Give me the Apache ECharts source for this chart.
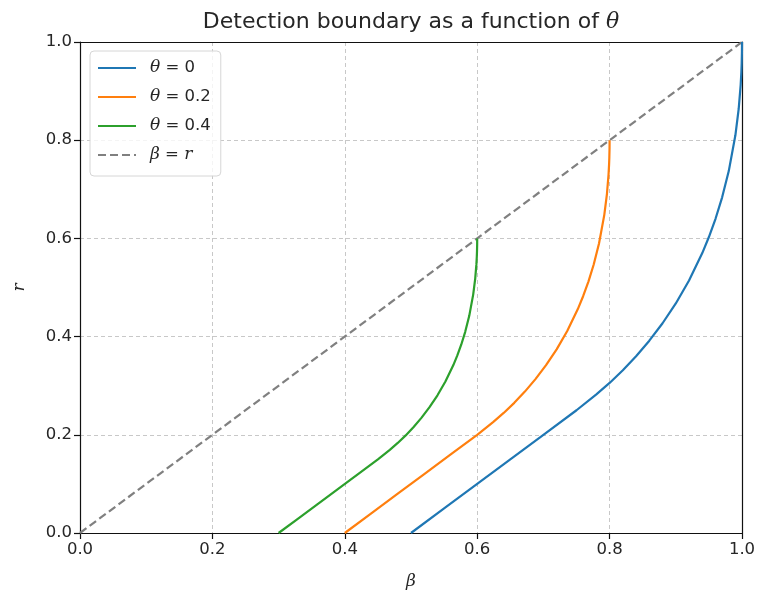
<!DOCTYPE html>
<html>
<head>
<meta charset="utf-8">
<script src="https://cdn.jsdelivr.net/npm/echarts@6/dist/echarts.min.js"></script>
<style>
  html, body { margin: 0; padding: 0; background: #fff; }
  #chart { width: 757px; height: 596px; }
</style>
</head>
<body>
<div id="chart"></div>
<script>
// Detection boundary curves (beta, r) for three values of theta
const theta0 = [
  [0.5, 0], [0.55, 0.05], [0.6, 0.1], [0.65, 0.15], [0.7, 0.2], [0.75, 0.25],
  [0.78, 0.2824], [0.8, 0.3056], [0.82, 0.3314], [0.84, 0.36], [0.86, 0.3917],
  [0.88, 0.4272], [0.9, 0.4675], [0.92, 0.5144], [0.94, 0.5701], [0.95, 0.6028],
  [0.96, 0.64], [0.97, 0.6836], [0.98, 0.7371], [0.99, 0.81], [0.995, 0.8636],
  [0.998, 0.9127], [0.999, 0.9378], [0.9995, 0.9558], [0.9999, 0.98], [1.0, 1.0]
];
const theta02 = [
  [0.4, 0], [0.44, 0.04], [0.48, 0.08], [0.52, 0.12], [0.56, 0.16], [0.6, 0.2],
  [0.624, 0.2259], [0.64, 0.2445], [0.656, 0.2651], [0.672, 0.288], [0.688, 0.3134],
  [0.704, 0.3418], [0.72, 0.374], [0.736, 0.4115], [0.752, 0.4561], [0.76, 0.4822],
  [0.768, 0.512], [0.776, 0.5469], [0.784, 0.5897], [0.792, 0.648], [0.796, 0.6909],
  [0.7984, 0.7302], [0.7992, 0.7502], [0.7996, 0.7646], [0.79992, 0.784], [0.8, 0.8]
];
const theta04 = [
  [0.3, 0], [0.33, 0.03], [0.36, 0.06], [0.39, 0.09], [0.42, 0.12], [0.45, 0.15],
  [0.468, 0.1694], [0.48, 0.1834], [0.492, 0.1988], [0.504, 0.216], [0.516, 0.235],
  [0.528, 0.2563], [0.54, 0.2805], [0.552, 0.3086], [0.564, 0.342], [0.57, 0.3617],
  [0.576, 0.384], [0.582, 0.4102], [0.588, 0.4423], [0.594, 0.486], [0.597, 0.5182],
  [0.5988, 0.5476], [0.5994, 0.5627], [0.5997, 0.5735], [0.59994, 0.588], [0.6, 0.6]
];
const diagonal = [[0, 0], [1, 1]];

const INK = '#262626';
const tickFont = { fontFamily: 'DejaVu Sans', fontSize: 16.5, color: INK };

const chart = echarts.init(document.getElementById('chart'), null, { renderer: 'canvas' });

const rich = {
  i: { fontFamily: 'DejaVu Serif', fontStyle: 'italic', fontSize: 17, color: INK },
  n: { fontFamily: 'DejaVu Sans', fontSize: 16.5, color: INK }
};

const gridLine = { show: true, lineStyle: { color: '#c8c8c8', type: [4, 3], width: 1 } };

function mainAxis(name, gap) {
  return {
    type: 'value', min: 0, max: 1, interval: 0.2,
    name: name, nameLocation: 'middle', nameGap: gap,
    nameTextStyle: { fontFamily: 'DejaVu Serif', fontStyle: 'italic', fontSize: 17, color: INK },
    axisLine: { show: true, onZero: false, lineStyle: { color: '#111', width: 1.2 } },
    axisTick: { show: true, length: 6, lineStyle: { color: '#111', width: 1.2 } },
    axisLabel: Object.assign({ margin: 8, formatter: v => v.toFixed(1) }, tickFont),
    splitLine: gridLine
  };
}
// plain spine for the opposite side of the frame
function spine(position) {
  return {
    type: 'value', min: 0, max: 1, position: position,
    axisLine: { show: true, onZero: false, lineStyle: { color: '#111', width: 1.2 } },
    axisTick: { show: false }, axisLabel: { show: false }, splitLine: { show: false }
  };
}

chart.setOption({
  animation: false,
  backgroundColor: '#fff',
  title: {
    text: 'Detection boundary as a function of {i|θ}',
    left: 406, top: 6, textAlign: 'center',
    textStyle: {
      fontFamily: 'DejaVu Sans', fontSize: 22, fontWeight: 'normal', color: INK,
      rich: { i: { fontFamily: 'DejaVu Serif', fontStyle: 'italic', fontSize: 22, color: INK } }
    }
  },
  grid: { left: 80, right: 15, top: 42, bottom: 63, containLabel: false, outerBoundsMode: 'none' },
  legend: {
    orient: 'vertical', left: 90, top: 51,
    padding: [8, 10, 12, 7],
    itemGap: 11, itemWidth: 38, itemHeight: 18,
    borderColor: '#d6d6d6', borderWidth: 1, borderRadius: 4,
    backgroundColor: 'rgba(255,255,255,0.8)',
    itemStyle: { opacity: 0 },
    textStyle: { rich: rich, padding: [0, 0, 0, 9], lineHeight: 18 },
    formatter: function (name) {
      const map = {
        't0': '{i|θ}{n| = 0}',
        't2': '{i|θ}{n| = 0.2}',
        't4': '{i|θ}{n| = 0.4}',
        'd': '{i|β}{n| = }{i|r}'
      };
      return map[name];
    },
    data: ['t0', 't2', 't4', 'd']
  },
  xAxis: [mainAxis('β', 40), spine('top')],
  yAxis: [mainAxis('r', 52), spine('right')],
  series: [
    { name: 't0', type: 'line', data: theta0, showSymbol: false, symbol: 'none',
      lineStyle: { color: '#1f77b4', width: 2.2 }, itemStyle: { color: '#1f77b4' }, z: 3 },
    { name: 't2', type: 'line', data: theta02, showSymbol: false, symbol: 'none',
      lineStyle: { color: '#ff7f0e', width: 2.2 }, itemStyle: { color: '#ff7f0e' }, z: 3 },
    { name: 't4', type: 'line', data: theta04, showSymbol: false, symbol: 'none',
      lineStyle: { color: '#2ca02c', width: 2.2 }, itemStyle: { color: '#2ca02c' }, z: 3 },
    { name: 'd', type: 'line', data: diagonal, showSymbol: false, symbol: 'none',
      lineStyle: { color: '#808080', width: 2.2, type: [8, 4] }, itemStyle: { color: '#808080' }, z: 2 }
  ]
});
</script>
</body>
</html>
